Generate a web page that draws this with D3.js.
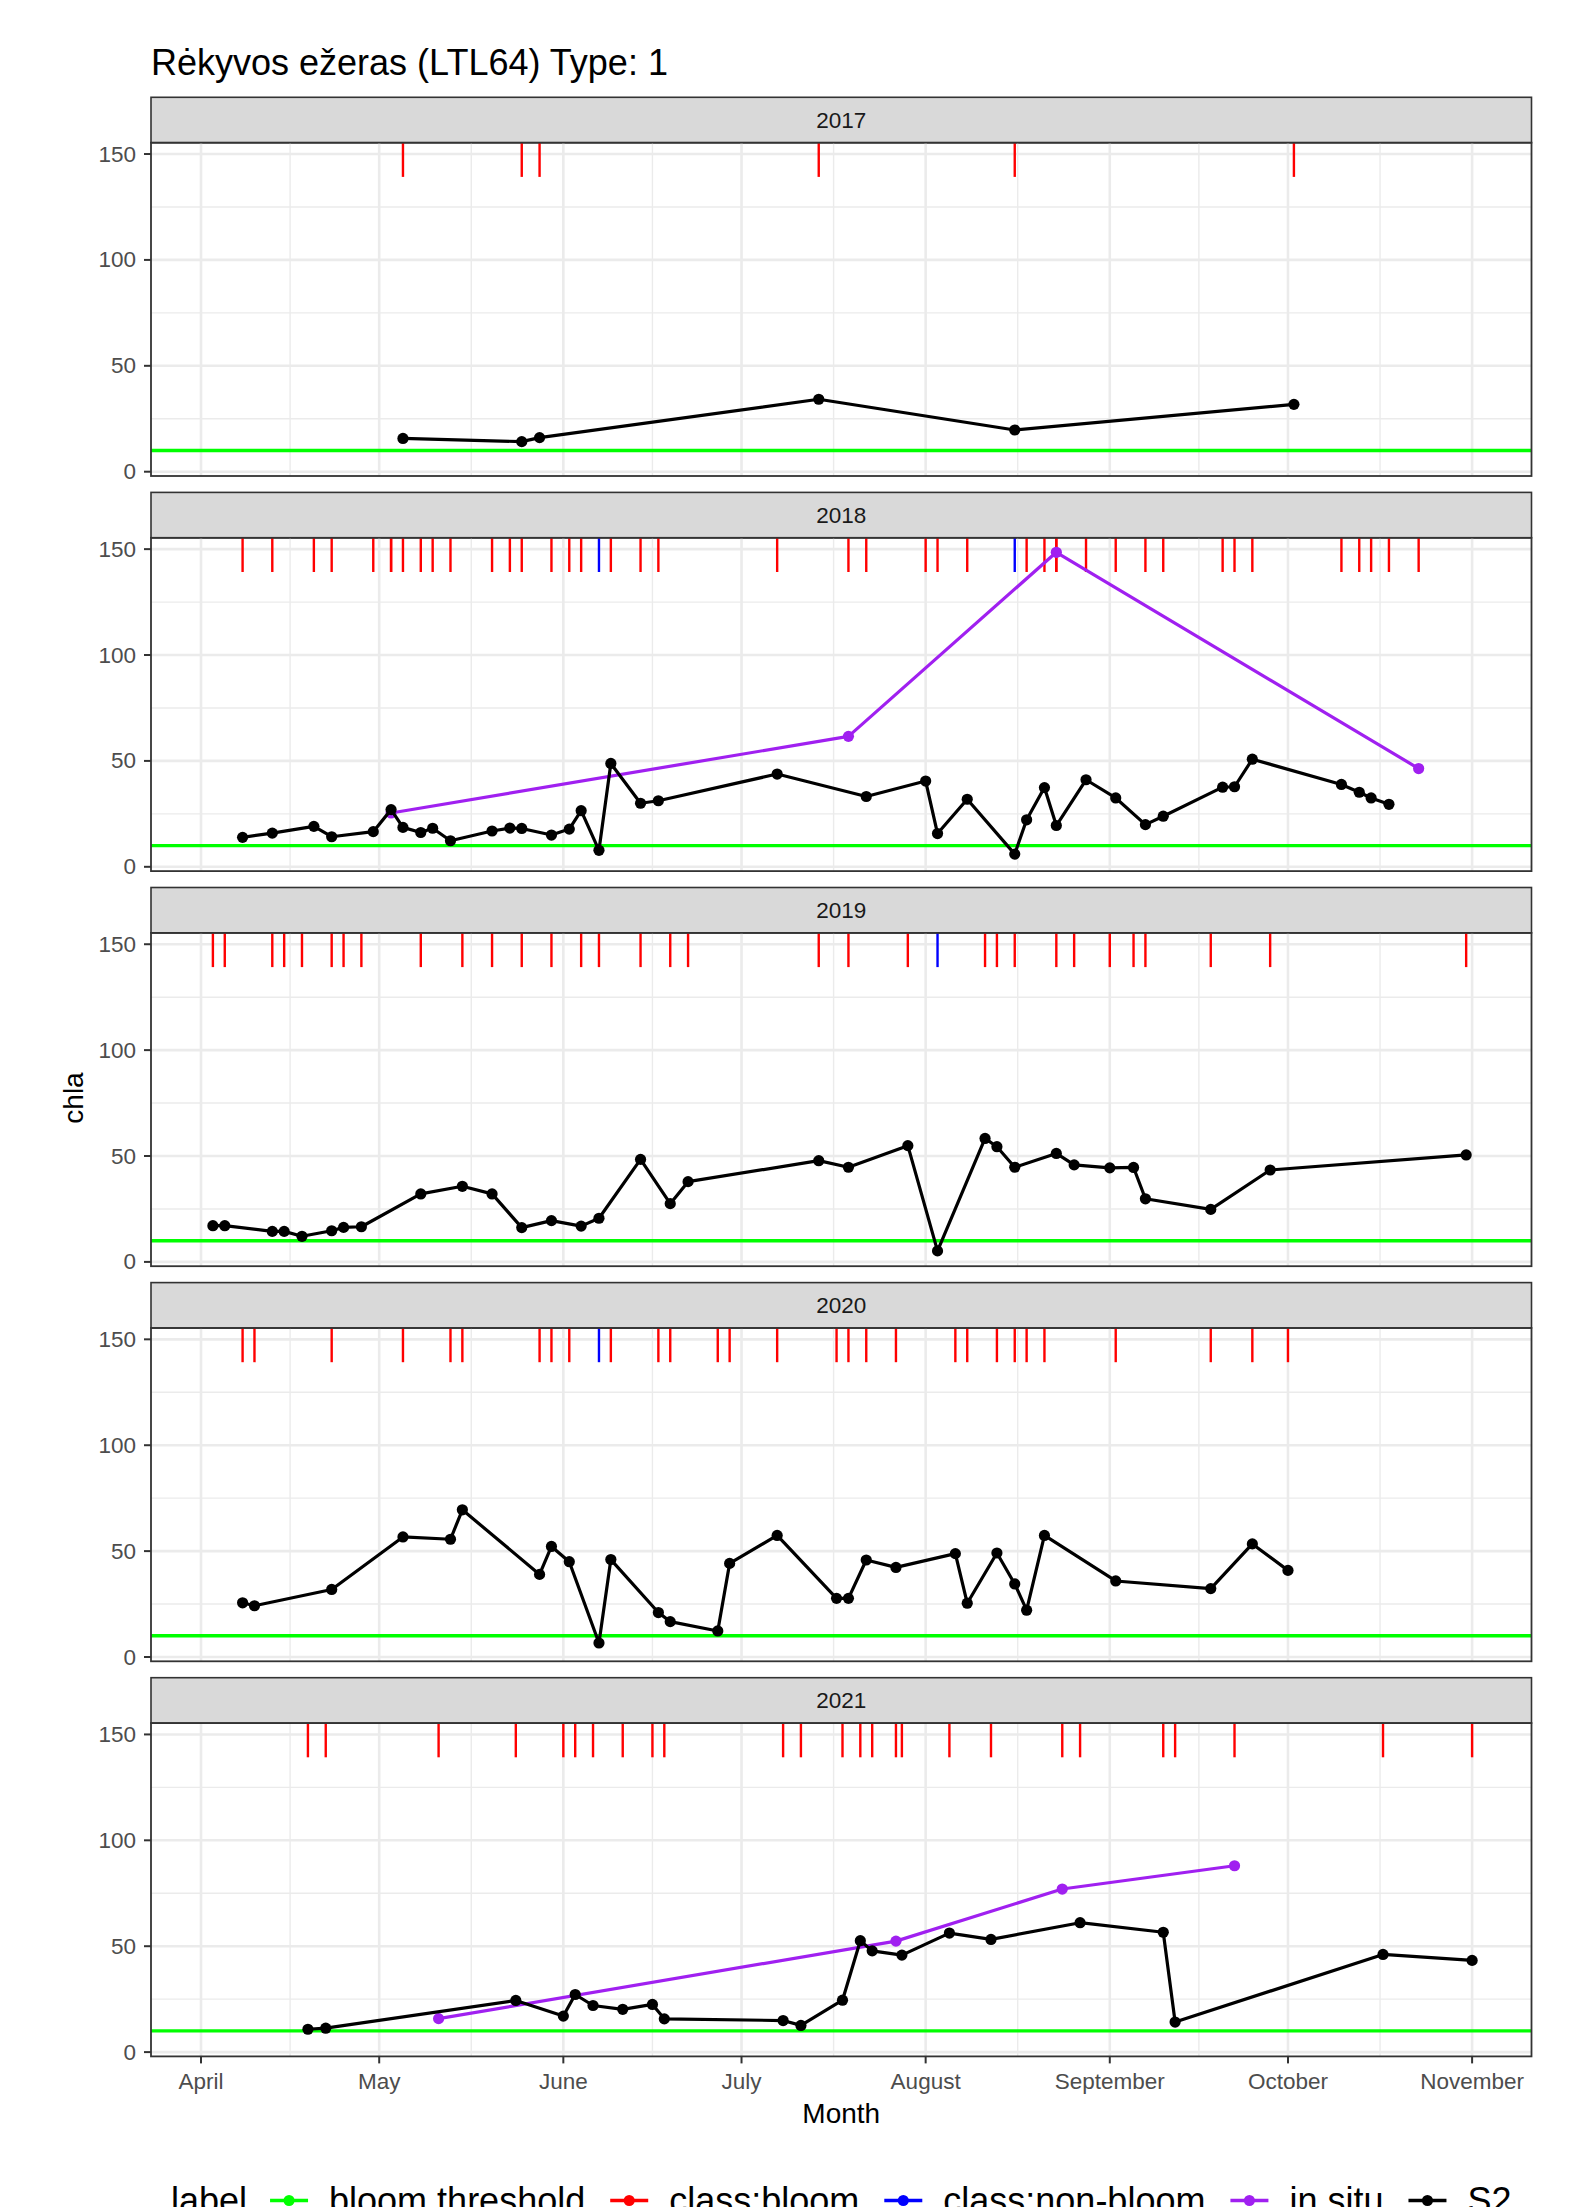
<!DOCTYPE html>
<html>
<head>
<meta charset="utf-8">
<script src="https://cdn.jsdelivr.net/npm/d3@7"></script>
<style>
  html, body { margin: 0; background: #fff; }
  svg text { font-family: "Liberation Sans", Arial, sans-serif; }
</style>
</head>
<body>
<div id="chart"></div>
<script>
// Chlorophyll-a per season, one facet per year: S2 retrievals, in situ samples,
// bloom threshold and the bloom / non-bloom class marks along the top.
const TITLE = "Rėkyvos ežeras (LTL64) Type: 1";
const years = [2017, 2018, 2019, 2020, 2021];
const threshold = 10;
const monthTicks = ["04-01", "05-01", "06-01", "07-01", "08-01", "09-01", "10-01", "11-01"];
const monthLabels = ["April", "May", "June", "July", "August", "September", "October", "November"];
const yTicks = [0, 50, 100, 150];
const yMinorTicks = [25, 75, 125];
const legendTitle = "label";
const legendLabels = ["bloom threshold", "class:bloom", "class:non-bloom", "in situ", "S2"];

const s2 = [
  ["2017-05-05", 15.7], ["2017-05-25", 14.2], ["2017-05-28", 16.1], ["2017-07-14", 34.2],
  ["2017-08-16", 19.7], ["2017-10-02", 31.8],

  ["2018-04-08", 13.9], ["2018-04-13", 15.9], ["2018-04-20", 19.1], ["2018-04-23", 14.2],
  ["2018-04-30", 16.6], ["2018-05-03", 27.0], ["2018-05-05", 18.6], ["2018-05-08", 16.2],
  ["2018-05-10", 18.2], ["2018-05-13", 12.3], ["2018-05-20", 16.9], ["2018-05-23", 18.3],
  ["2018-05-25", 18.1], ["2018-05-30", 15.0], ["2018-06-02", 17.8], ["2018-06-04", 26.5],
  ["2018-06-07", 7.8], ["2018-06-09", 48.8], ["2018-06-14", 30.0], ["2018-06-17", 31.2],
  ["2018-07-07", 43.8], ["2018-07-22", 33.2], ["2018-08-01", 40.5], ["2018-08-03", 15.7],
  ["2018-08-08", 31.9], ["2018-08-16", 6.0], ["2018-08-18", 22.2], ["2018-08-21", 37.4],
  ["2018-08-23", 19.5], ["2018-08-28", 41.1], ["2018-09-02", 32.5], ["2018-09-07", 19.9],
  ["2018-09-10", 23.9], ["2018-09-20", 37.6], ["2018-09-22", 37.8], ["2018-09-25", 50.8],
  ["2018-10-10", 38.9], ["2018-10-13", 35.2], ["2018-10-15", 32.5], ["2018-10-18", 29.5],

  ["2019-04-03", 17.1], ["2019-04-05", 17.1], ["2019-04-13", 14.4], ["2019-04-15", 14.4],
  ["2019-04-18", 12.1], ["2019-04-23", 14.7], ["2019-04-25", 16.3], ["2019-04-28", 16.6],
  ["2019-05-08", 32.1], ["2019-05-15", 35.7], ["2019-05-20", 32.1], ["2019-05-25", 16.2],
  ["2019-05-30", 19.5], ["2019-06-04", 16.9], ["2019-06-07", 20.6], ["2019-06-14", 48.4],
  ["2019-06-19", 27.5], ["2019-06-22", 37.9], ["2019-07-14", 47.8], ["2019-07-19", 44.7],
  ["2019-07-29", 54.9], ["2019-08-03", 5.2], ["2019-08-11", 58.3], ["2019-08-13", 54.4],
  ["2019-08-16", 44.7], ["2019-08-23", 51.2], ["2019-08-26", 45.8], ["2019-09-01", 44.4],
  ["2019-09-05", 44.6], ["2019-09-07", 29.8], ["2019-09-18", 24.8], ["2019-09-28", 43.4],
  ["2019-10-31", 50.5],

  ["2020-04-08", 25.6], ["2020-04-10", 24.2], ["2020-04-23", 31.9], ["2020-05-05", 56.7],
  ["2020-05-13", 55.6], ["2020-05-15", 69.5], ["2020-05-28", 39.0], ["2020-05-30", 52.2],
  ["2020-06-02", 45.0], ["2020-06-07", 6.6], ["2020-06-09", 46.0], ["2020-06-17", 21.0],
  ["2020-06-19", 16.7], ["2020-06-27", 12.3], ["2020-06-29", 44.2], ["2020-07-07", 57.4],
  ["2020-07-17", 27.7], ["2020-07-19", 27.7], ["2020-07-22", 45.8], ["2020-07-27", 42.3],
  ["2020-08-06", 48.8], ["2020-08-08", 25.4], ["2020-08-13", 49.1], ["2020-08-16", 34.5],
  ["2020-08-18", 22.1], ["2020-08-21", 57.4], ["2020-09-02", 35.9], ["2020-09-18", 32.3],
  ["2020-09-25", 53.4], ["2020-10-01", 40.9],

  ["2021-04-19", 10.8], ["2021-04-22", 11.3], ["2021-05-24", 24.4], ["2021-06-01", 17.0],
  ["2021-06-03", 27.2], ["2021-06-06", 22.0], ["2021-06-11", 20.2], ["2021-06-16", 22.5],
  ["2021-06-18", 15.7], ["2021-07-08", 14.9], ["2021-07-11", 12.6], ["2021-07-18", 24.5],
  ["2021-07-21", 52.6], ["2021-07-23", 47.8], ["2021-07-28", 45.8], ["2021-08-05", 56.2],
  ["2021-08-12", 53.2], ["2021-08-27", 61.1], ["2021-09-10", 56.6], ["2021-09-12", 14.2],
  ["2021-10-17", 46.1], ["2021-11-01", 43.3]
];

const inSitu = [
  ["2018-05-03", 25.4], ["2018-07-19", 61.6], ["2018-08-23", 148.5], ["2018-10-23", 46.4],
  ["2021-05-11", 15.8], ["2021-07-27", 52.4], ["2021-08-24", 77.0], ["2021-09-22", 88.0]
];

const COLORS = {
  "bloom threshold": "#00FF00", "class:bloom": "#FF0000", "class:non-bloom": "#0000FF",
  "in situ": "#A020F0", "S2": "#000000"
};

const W = 1571, H = 2207;
const left = 151, right = 1531.5;
const top0 = 97.3, stripH = 45.4, panelH = 333.3, pitch = 395.1;
const FONT = 22.5;

// every season is laid on one reference year so the facets share the x axis
const refDate = md => { const [m, d] = md.split("-").map(Number); return new Date(Date.UTC(2001, m - 1, d)); };
const DAY = 864e5;
const apr1 = refDate("04-01");
const x = d3.scaleUtc()
  .domain([new Date(+apr1 - 8.42 * DAY), new Date(+apr1 + 224 * DAY)])
  .range([left, right]);
const y = d3.scaleLinear().domain([-2.03, 155.35]).range([panelH, 0]);

const rows = (arr, label) => arr.map(([date, v]) => ({
  year: +date.slice(0, 4), date: refDate(date.slice(5)), value: v, label
}));
const s2Rows = rows(s2, "S2");
const inSituRows = rows(inSitu, "in situ");
// class marks: every observation, coloured by whether it clears the threshold
const classRows = s2Rows.concat(inSituRows).map(d => ({
  ...d, cls: d.value >= threshold ? "class:bloom" : "class:non-bloom"
}));

const svg = d3.select("#chart").append("svg")
  .attr("width", W).attr("height", H).attr("viewBox", `0 0 ${W} ${H}`)
  .style("display", "block");
svg.append("rect").attr("width", W).attr("height", H).attr("fill", "#fff");

svg.append("text").attr("x", left).attr("y", 74.5)
  .attr("font-size", 36).attr("fill", "#000").text(TITLE);

const majorX = monthTicks.map(refDate);
const minorX = d3.pairs(majorX).map(([a, b]) => new Date((+a + +b) / 2));
const line = d3.line().x(d => x(d.date)).y(d => y(d.value));
const pw = right - left;

years.forEach((yr, k) => {
  const stripTop = top0 + k * pitch;
  const g = svg.append("g").attr("transform", `translate(0,${stripTop + stripH})`);

  // strip
  g.append("rect").attr("x", left).attr("y", -stripH).attr("width", pw).attr("height", stripH)
    .attr("fill", "#D9D9D9").attr("stroke", "#333").attr("stroke-width", 1.6);
  g.append("text").attr("x", left + pw / 2).attr("y", -stripH / 2)
    .attr("text-anchor", "middle").attr("dominant-baseline", "central")
    .attr("font-size", FONT).attr("fill", "#1A1A1A").text(yr);

  // grid
  g.selectAll("line.ymin").data(yMinorTicks).join("line").attr("class", "ymin")
    .attr("x1", left).attr("x2", right).attr("y1", y).attr("y2", y)
    .attr("stroke", "#EBEBEB").attr("stroke-width", 1.4);
  g.selectAll("line.xmin").data(minorX).join("line").attr("class", "xmin")
    .attr("x1", x).attr("x2", x).attr("y1", 0).attr("y2", panelH)
    .attr("stroke", "#EBEBEB").attr("stroke-width", 1.4);
  g.selectAll("line.ymaj").data(yTicks).join("line").attr("class", "ymaj")
    .attr("x1", left).attr("x2", right).attr("y1", y).attr("y2", y)
    .attr("stroke", "#EBEBEB").attr("stroke-width", 2.6);
  g.selectAll("line.xmaj").data(majorX).join("line").attr("class", "xmaj")
    .attr("x1", x).attr("x2", x).attr("y1", 0).attr("y2", panelH)
    .attr("stroke", "#EBEBEB").attr("stroke-width", 2.6);

  // bloom threshold
  g.append("line").attr("x1", left).attr("x2", right)
    .attr("y1", y(threshold)).attr("y2", y(threshold))
    .attr("stroke", COLORS["bloom threshold"]).attr("stroke-width", 3.4);

  // class marks
  g.selectAll("line.cls").data(classRows.filter(d => d.year === yr)).join("line").attr("class", "cls")
    .attr("x1", d => x(d.date)).attr("x2", d => x(d.date))
    .attr("y1", y(155.35)).attr("y2", y(139.2))
    .attr("stroke", d => COLORS[d.cls]).attr("stroke-width", 2.4);

  // series
  [inSituRows, s2Rows].forEach(set => {
    const pts = set.filter(d => d.year === yr).sort((a, b) => a.date - b.date);
    if (!pts.length) return;
    const col = COLORS[pts[0].label];
    g.append("path").attr("d", line(pts)).attr("fill", "none")
      .attr("stroke", col).attr("stroke-width", 3.2).attr("stroke-linejoin", "round");
    g.selectAll(null).data(pts).join("circle")
      .attr("cx", d => x(d.date)).attr("cy", d => y(d.value)).attr("r", 5.6).attr("fill", col);
  });

  // border
  g.append("rect").attr("x", left).attr("y", 0).attr("width", pw).attr("height", panelH)
    .attr("fill", "none").attr("stroke", "#333").attr("stroke-width", 1.8);

  // y axis
  g.selectAll("line.ytick").data(yTicks).join("line").attr("class", "ytick")
    .attr("x1", left - 7).attr("x2", left).attr("y1", y).attr("y2", y)
    .attr("stroke", "#333").attr("stroke-width", 2);
  g.selectAll("text.ytick").data(yTicks).join("text").attr("class", "ytick")
    .attr("x", left - 15).attr("y", y).attr("text-anchor", "end").attr("dominant-baseline", "central")
    .attr("font-size", FONT).attr("fill", "#4D4D4D").text(d => d);

  // x axis on the last facet only
  if (k === years.length - 1) {
    g.selectAll("line.xtick").data(majorX).join("line").attr("class", "xtick")
      .attr("x1", x).attr("x2", x).attr("y1", panelH).attr("y2", panelH + 7)
      .attr("stroke", "#333").attr("stroke-width", 2);
    g.selectAll("text.xtick").data(majorX).join("text").attr("class", "xtick")
      .attr("x", x).attr("y", panelH + 33).attr("text-anchor", "middle")
      .attr("font-size", FONT).attr("fill", "#4D4D4D").text((d, i) => monthLabels[i]);
  }
});

// axis titles
svg.append("text").attr("x", left + pw / 2).attr("y", 2122.5).attr("text-anchor", "middle")
  .attr("font-size", 28).attr("fill", "#000").text("Month");
svg.append("text").attr("transform", "translate(73,1098) rotate(-90)")
  .attr("text-anchor", "middle").attr("dominant-baseline", "central")
  .attr("font-size", 28).attr("fill", "#000").text("chla");

// legend along the bottom, centred under the panels (runs off the page edge, as in the original)
const LEG_Y = 2200.5, LEG_FS = 36;
const leg = svg.append("g");
const title = leg.append("text").attr("y", LEG_Y).attr("dominant-baseline", "central")
  .attr("font-size", LEG_FS).attr("fill", "#000").text(legendTitle);
let cx = title.node().getComputedTextLength() + 42;
legendLabels.forEach(lab => {
  const key = leg.append("g").attr("transform", `translate(${cx},${LEG_Y})`);
  key.append("line").attr("x1", -19).attr("x2", 19)
    .attr("stroke", COLORS[lab]).attr("stroke-width", 3.4);
  key.append("circle").attr("r", 5.5).attr("fill", COLORS[lab]);
  const t = leg.append("text").attr("x", cx + 40).attr("y", LEG_Y).attr("dominant-baseline", "central")
    .attr("font-size", LEG_FS).attr("fill", "#000").text(lab);
  cx += 40 + t.node().getComputedTextLength() + 44;
});
const legW = cx - 44;
leg.attr("transform", `translate(${left + pw / 2 - legW / 2},0)`);
</script>
</body>
</html>
